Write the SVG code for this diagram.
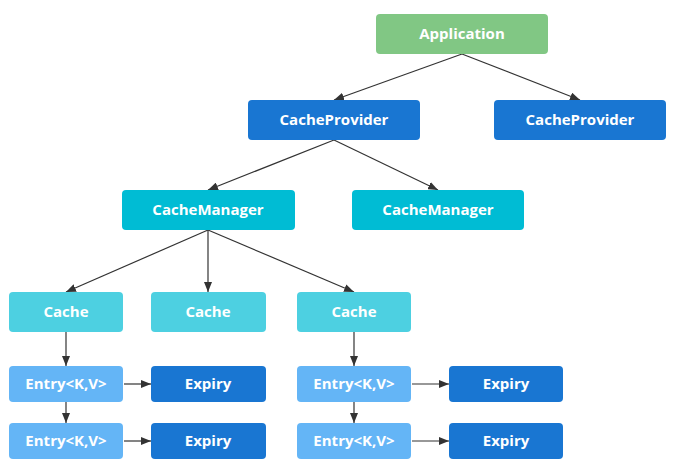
<svg xmlns="http://www.w3.org/2000/svg" width="690" height="467" viewBox="0 0 690 467">
<style>
.n text{font-family:"Open Sans","Liberation Sans",sans-serif;font-weight:bold;font-size:15px;fill:#fff;text-anchor:middle;dominant-baseline:central}
.app{fill:#81C784}.prov{fill:#1976D2}.mgr{fill:#00BCD4}.cache{fill:#4DD0E1}.entry{fill:#64B5F6}.exp{fill:#1976D2}
#edges line{stroke:#333;stroke-width:1.2;marker-end:url(#ah)}
</style>
<defs>
<marker id="ah" viewBox="0 0 10 8" refX="10" refY="4" markerWidth="10" markerHeight="8" markerUnits="userSpaceOnUse" orient="auto">
<path d="M0,0 L10,4 L0,8 Z" fill="#333"/>
</marker>
</defs>
<rect width="690" height="467" fill="#fff"/>
<g id="edges">
<line x1="462" y1="54" x2="334" y2="100"/>
<line x1="462" y1="54" x2="580" y2="100"/>
<line x1="334" y1="140" x2="208" y2="190"/>
<line x1="334" y1="140" x2="438" y2="190"/>
<line x1="208" y1="230" x2="66" y2="292"/>
<line x1="208" y1="230" x2="208" y2="292"/>
<line x1="208" y1="230" x2="354" y2="292"/>
<line x1="66" y1="332" x2="66" y2="366"/>
<line x1="66" y1="402" x2="66" y2="423"/>
<line x1="354" y1="332" x2="354" y2="366"/>
<line x1="354" y1="402" x2="354" y2="423"/>
<line x1="124" y1="384" x2="151" y2="384"/>
<line x1="124" y1="441" x2="151" y2="441"/>
<line x1="412" y1="384" x2="449" y2="384"/>
<line x1="412" y1="441" x2="449" y2="441"/>
</g>
<g id="application" class="n"><rect class="app" x="376" y="14" width="172" height="40" rx="4"/><text x="462" y="33">Application</text></g>
<g id="provider1" class="n"><rect class="prov" x="248" y="100" width="172" height="40" rx="4"/><text x="334" y="119">CacheProvider</text></g>
<g id="provider2" class="n"><rect class="prov" x="494" y="100" width="172" height="40" rx="4"/><text x="580" y="119">CacheProvider</text></g>
<g id="manager1" class="n"><rect class="mgr" x="122" y="190" width="173" height="40" rx="4"/><text x="208" y="209">CacheManager</text></g>
<g id="manager2" class="n"><rect class="mgr" x="352" y="190" width="172" height="40" rx="4"/><text x="438" y="209">CacheManager</text></g>
<g id="cache1" class="n"><rect class="cache" x="9" y="292" width="114" height="40" rx="4"/><text x="66" y="311">Cache</text></g>
<g id="cache2" class="n"><rect class="cache" x="151" y="292" width="115" height="40" rx="4"/><text x="208" y="311">Cache</text></g>
<g id="cache3" class="n"><rect class="cache" x="297" y="292" width="114" height="40" rx="4"/><text x="354" y="311">Cache</text></g>
<g id="entry1" class="n"><rect class="entry" x="9" y="366" width="114" height="36" rx="4"/><text x="66" y="383">Entry&lt;K,V&gt;</text></g>
<g id="entry2" class="n"><rect class="entry" x="9" y="423" width="114" height="36" rx="4"/><text x="66" y="440">Entry&lt;K,V&gt;</text></g>
<g id="entry3" class="n"><rect class="entry" x="297" y="366" width="114" height="36" rx="4"/><text x="354" y="383">Entry&lt;K,V&gt;</text></g>
<g id="entry4" class="n"><rect class="entry" x="297" y="423" width="114" height="36" rx="4"/><text x="354" y="440">Entry&lt;K,V&gt;</text></g>
<g id="expiry1" class="n"><rect class="exp" x="151" y="366" width="115" height="36" rx="4"/><text x="208" y="383">Expiry</text></g>
<g id="expiry2" class="n"><rect class="exp" x="151" y="423" width="115" height="36" rx="4"/><text x="208" y="440">Expiry</text></g>
<g id="expiry3" class="n"><rect class="exp" x="449" y="366" width="114" height="36" rx="4"/><text x="506" y="383">Expiry</text></g>
<g id="expiry4" class="n"><rect class="exp" x="449" y="423" width="114" height="36" rx="4"/><text x="506" y="440">Expiry</text></g>
</svg>
